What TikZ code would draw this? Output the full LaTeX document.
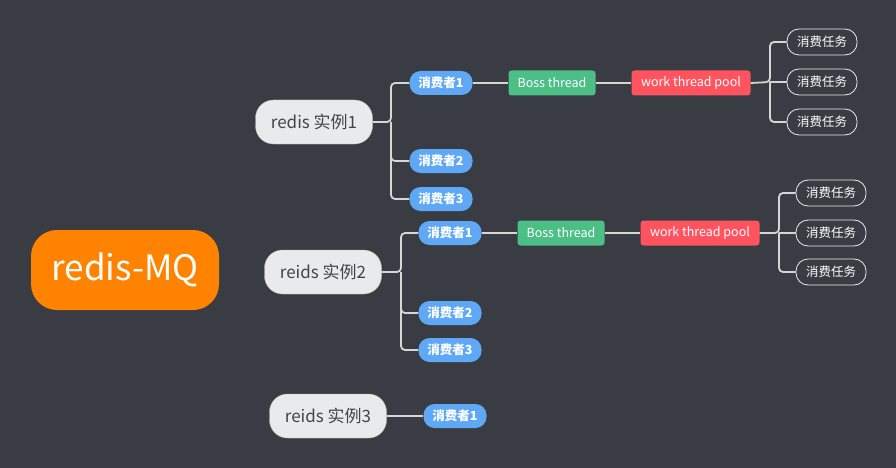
\documentclass[tikz,border=0pt]{standalone}
\usepackage{fontspec}
\setmainfont{Noto Sans CJK SC}
\definecolor{bg}{HTML}{393C42}
\definecolor{rootc}{HTML}{FF8200}
\definecolor{instc}{HTML}{E9EAEC}
\definecolor{insttext}{HTML}{444444}
\definecolor{consc}{HTML}{5FA8F5}
\definecolor{bossc}{HTML}{4CBF87}
\definecolor{poolc}{HTML}{FF5460}
\definecolor{linec}{HTML}{D6D6D6}
\begin{document}
\begin{tikzpicture}[x=1pt,y=-1pt,
  rootbox/.style={fill=rootc,text=white,minimum width=188pt,minimum height=80pt,rounded corners=26pt,inner sep=0pt,font=\fontsize{35}{35}\selectfont},
  instbox/.style={fill=instc,draw=instc!80!black,line width=0.4pt,text=insttext,minimum width=117pt,minimum height=44pt,rounded corners=18pt,inner sep=0pt,font=\fontsize{17}{17}\selectfont},
  consbox/.style={fill=consc,text=white,minimum width=63pt,minimum height=24pt,rounded corners=11pt,inner sep=0pt,font=\fontsize{12.5}{12.5}\selectfont\bfseries},
  bossbox/.style={fill=bossc,text=white,minimum width=87pt,minimum height=25pt,rounded corners=3pt,inner sep=0pt,font=\fontsize{12.5}{12.5}\selectfont},
  poolbox/.style={fill=poolc,text=white,minimum width=119pt,minimum height=25pt,rounded corners=3pt,inner sep=0pt,font=\fontsize{12.5}{12.5}\selectfont},
  taskbox/.style={draw=white!85!gray,line width=0.8pt,text=white,minimum width=70pt,minimum height=26pt,rounded corners=12pt,inner sep=0pt,font=\fontsize{12.5}{12.5}\selectfont},
  conn/.style={draw=linec,line width=1.8pt,rounded corners=4pt}]
\fill[bg] (0,0) rectangle (896,468);
\useasboundingbox (0,0) rectangle (896,468);

\node[rootbox] (root) at (125,270) {redis-MQ};

% instance 1
\node[instbox] (i1) at (314,122) {redis 实例1};
\node[consbox] (c11) at (441,83) {消费者1};
\node[consbox] (c12) at (441,161) {消费者2};
\node[consbox] (c13) at (441,199) {消费者3};
\node[bossbox] (b1) at (552,83) {Boss thread};
\node[poolbox] (p1) at (691,83) {work thread pool};
\node[taskbox] (t11) at (822,42) {消费任务};
\node[taskbox] (t12) at (822,82) {消费任务};
\node[taskbox] (t13) at (822,122) {消费任务};

\coordinate (j1) at (391,122);
\draw[conn] (i1.east) -- (j1) |- (c11.west);
\draw[conn] (j1) |- (c12.west);
\draw[conn] (j1) |- (c13.west);
\draw[conn] (c11.east) -- (b1.west);
\draw[conn] (b1.east) -- (p1.west);
\coordinate (k1) at (770,82);
\draw[conn] (p1.east) -- (k1) |- (t11.west);
\draw[conn] (k1) -- (t12.west);
\draw[conn] (k1) |- (t13.west);

% instance 2
\node[instbox] (i2) at (323,272) {reids 实例2};
\node[consbox] (c21) at (450,233) {消费者1};
\node[consbox] (c22) at (450,313) {消费者2};
\node[consbox] (c23) at (450,350) {消费者3};
\node[bossbox] (b2) at (561,233) {Boss thread};
\node[poolbox] (p2) at (700,233) {work thread pool};
\node[taskbox] (t21) at (831,193) {消费任务};
\node[taskbox] (t22) at (831,233) {消费任务};
\node[taskbox] (t23) at (831,272) {消费任务};

\coordinate (j2) at (401,272);
\draw[conn] (i2.east) -- (j2) |- (c21.west);
\draw[conn] (j2) |- (c22.west);
\draw[conn] (j2) |- (c23.west);
\draw[conn] (c21.east) -- (b2.west);
\draw[conn] (b2.east) -- (p2.west);
\coordinate (k2) at (779,233);
\draw[conn] (p2.east) -- (k2) |- (t21.west);
\draw[conn] (k2) -- (t22.west);
\draw[conn] (k2) |- (t23.west);

% instance 3
\node[instbox] (i3) at (328,416) {reids 实例3};
\node[consbox] (c31) at (455,416) {消费者1};
\draw[conn] (i3.east) -- (c31.west);
\end{tikzpicture}
\end{document}
